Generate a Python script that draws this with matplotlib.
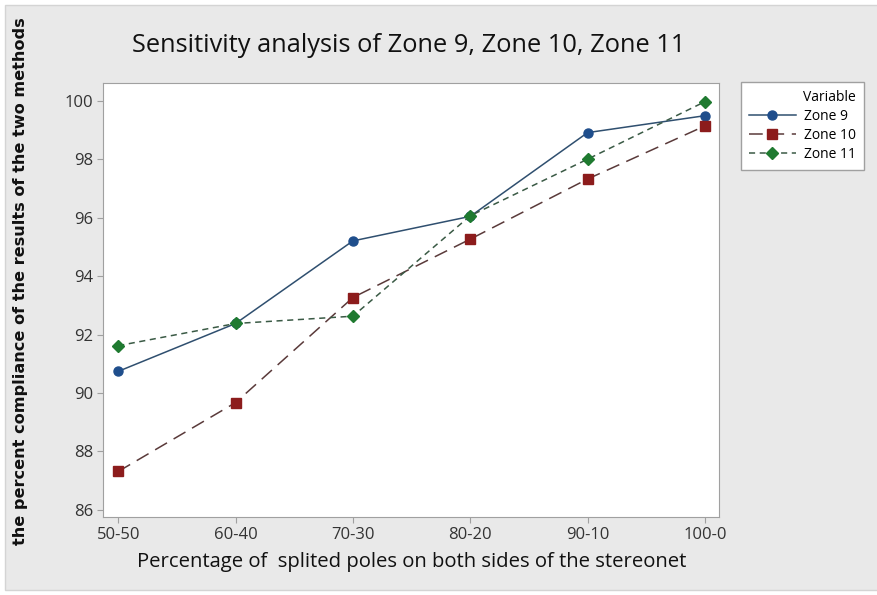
import matplotlib.pyplot as plt
from matplotlib.patches import Rectangle

categories = ["50-50", "60-40", "70-30", "80-20", "90-10", "100-0"]
zone9 = [90.74, 92.38, 95.21, 96.05, 98.92, 99.50]
zone10 = [87.31, 89.67, 93.27, 95.27, 97.33, 99.15]
zone11 = [91.62, 92.38, 92.63, 96.07, 98.01, 99.98]

W, H = 878, 595
fig = plt.figure(figsize=(W / 100, H / 100), dpi=100)
fig.patch.set_facecolor("white")

# gray panel behind everything
fig.patches.append(Rectangle((5 / W, 5 / H), (W - 5) / W, (H - 10) / H,
                             transform=fig.transFigure, facecolor="#e9e9e9",
                             edgecolor="#d4d4d4", lw=1, zorder=-1))

ax = fig.add_axes([103 / W, 1 - 517 / H, (719 - 103) / W, (517 - 83) / H])
x = list(range(len(categories)))

ax.plot(x, zone9, color="#2f4f6f", lw=1.1, ls="-", marker="o", ms=6.5,
        mfc="#1f4e8c", mec="#1f4e8c", label="Zone 9")
ax.plot(x, zone10, color="#5a3a3a", lw=1.1, ls=(0, (9, 5)), marker="s", ms=6.5,
        mfc="#8c1c1c", mec="#8c1c1c", label="Zone 10")
ax.plot(x, zone11, color="#3a5a45", lw=1.1, ls=(0, (4, 3)), marker="D", ms=6,
        mfc="#1f7a30", mec="#1f7a30", label="Zone 11")

ax.set_xlim(-0.13, 5.12)
ax.set_ylim(85.75, 100.62)
ax.set_xticks(x)
ax.set_xticklabels(categories)
ax.set_yticks(range(86, 101, 2))
for s in ax.spines.values():
    s.set_color("#a0a0a0")
ax.tick_params(colors="#a0a0a0", labelcolor="#333333", length=4, width=0.8,
               labelsize=12, pad=3)
for lab in ax.get_xticklabels() + ax.get_yticklabels():
    lab.set_family("Open Sans")

fig.text(409 / W, 1 - 45 / H, "Sensitivity analysis of Zone 9, Zone 10, Zone 11",
         ha="center", va="center", fontsize=18.3, family="Open Sans", color="#111111")
fig.text(412 / W, 1 - 562 / H, "Percentage of  splited poles on both sides of the stereonet",
         ha="center", va="center", fontsize=14.6, family="Open Sans", color="#111111")
fig.text(21 / W, 1 - 281 / H, "the percent compliance of the results of the two methods",
         ha="center", va="center", rotation=90, fontsize=11.6, fontweight="bold",
         family="DejaVu Sans", color="#111111")

leg = fig.legend(loc="upper left", bbox_to_anchor=(741 / W, 1 - 82 / H),
                 borderaxespad=0, title="Variable", fontsize=10, title_fontsize=10,
                 frameon=True, fancybox=False, edgecolor="#a0a0a0",
                 facecolor="white", framealpha=1, handlelength=3.4,
                 borderpad=0.55, labelspacing=0.3, handletextpad=0.6)
leg._legend_box.align = "right"
for t in leg.get_texts():
    t.set_family("Open Sans")
leg.get_title().set_family("Open Sans")

fig.savefig("out.png", dpi=100)
